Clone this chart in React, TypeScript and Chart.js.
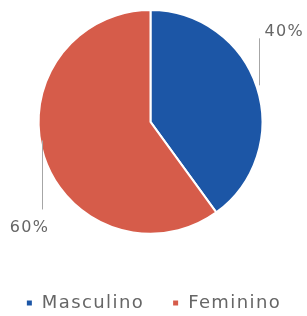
import React, { useEffect, useRef } from "react";
import { Chart, registerables } from "chart.js";

Chart.register(...registerables);

const categories = ["Masculino", "Feminino"];
const values = [40, 60];
const labelsText = ["40%", "60%"];
const colors = ["#1c56a6", "#d65c4a"];

const FONT = "'DejaVu Sans', sans-serif";
const SPACING = "1.4px";

const spacingPlugin = {
  id: "letterSpacing",
  beforeUpdate(chart: any) {
    chart.ctx.letterSpacing = SPACING;
  },
  beforeLayout(chart: any) {
    chart.ctx.letterSpacing = SPACING;
  },
  beforeDraw(chart: any) {
    chart.ctx.letterSpacing = SPACING;
  },
};

const leaderPlugin = {
  id: "leaderLabels",
  afterDatasetsDraw(chart: any) {
    const ctx = chart.ctx;
    const meta = chart.getDatasetMeta(0);
    ctx.save();
    ctx.letterSpacing = "1.3px";
    ctx.font = "16px " + FONT;
    ctx.fillStyle = "#666666";
    ctx.strokeStyle = "#a6a6a6";
    ctx.lineWidth = 1;
    meta.data.forEach((arc: any, i: number) => {
      const { x, y, startAngle, endAngle, outerRadius } = arc.getProps(
        ["x", "y", "startAngle", "endAngle", "outerRadius"],
        true
      );
      const mid = (startAngle + endAngle) / 2;
      const px = x + Math.cos(mid) * outerRadius;
      const py = y + Math.sin(mid) * outerRadius;
      ctx.beginPath();
      if (i === 0) {
        const lx = Math.round(px + 2.5) + 0.5;
        ctx.moveTo(lx, py - 2);
        ctx.lineTo(lx, py - 49);
        ctx.stroke();
        ctx.textAlign = "left";
        ctx.textBaseline = "middle";
        ctx.fillText(labelsText[i], lx + 5, py - 55);
      } else {
        const lx = Math.round(px - 2.5) + 0.5;
        ctx.moveTo(lx, py - 16);
        ctx.lineTo(lx, py + 53);
        ctx.stroke();
        ctx.textAlign = "center";
        ctx.textBaseline = "middle";
        ctx.fillText(labelsText[i], px - 14.5, py + 71);
      }
    });
    ctx.restore();
  },
};

export default function App() {
  const ref = useRef<HTMLCanvasElement>(null);
  useEffect(() => {
    const chart = new Chart(ref.current!, {
      type: "pie",
      data: {
        labels: categories,
        datasets: [
          {
            data: values,
            backgroundColor: colors,
            borderColor: "#ffffff",
            borderWidth: 2,
          },
        ],
      },
      options: {
        animation: false,
        responsive: false,
        layout: { padding: { left: -5, right: -11, top: 9, bottom: -6 } },
        plugins: {
          tooltip: { enabled: false },
          legend: {
            position: "bottom",
            title: {
              display: true,
              text: "",
              font: { size: 1 },
              padding: { top: 30, bottom: 0 },
            },
            labels: {
              usePointStyle: true,
              pointStyle: "rect",
              boxWidth: 7,
              boxHeight: 7,
              padding: 28,
              color: "#666666",
              font: { size: 18, family: FONT },
            },
          },
        },
      },
      plugins: [spacingPlugin, leaderPlugin],
    });
    return () => chart.destroy();
  }, []);
  return (
    <div style={{ position: "fixed", left: 0, top: 0, width: 307, height: 316, background: "#fff", overflow: "hidden" }}>
      <canvas ref={ref} width={307} height={316} style={{ position: "absolute", left: -3, top: 0 }} />
    </div>
  );
}
